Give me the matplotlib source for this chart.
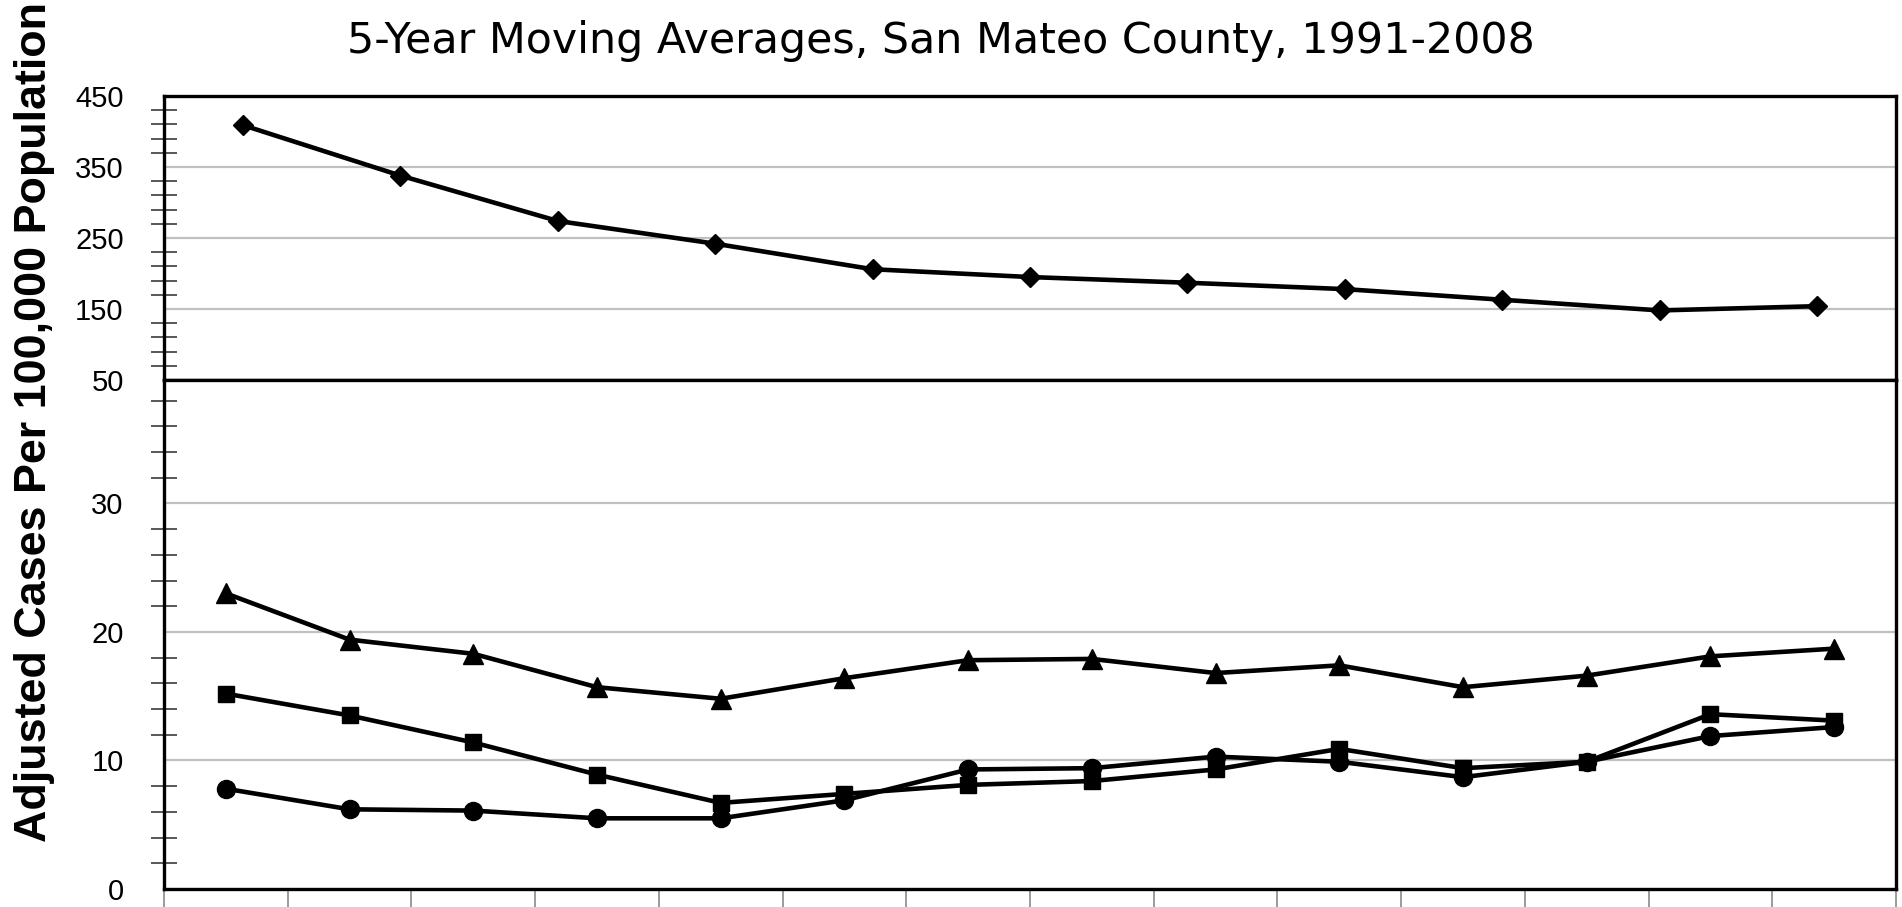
import matplotlib
matplotlib.use("Agg")
import matplotlib.pyplot as plt
from matplotlib.ticker import FixedLocator

# ==== data ====
# upper panel: 11 points (diamonds)
upper_rate = [409, 338, 274, 242, 206, 195, 187, 178, 163, 148, 154]

# lower panel: 14 five-year periods
periods = ["1991-1995", "1992-1996", "1993-1997", "1994-1998", "1995-1999",
           "1996-2000", "1997-2001", "1998-2002", "1999-2003", "2000-2004",
           "2001-2005", "2002-2006", "2003-2007", "2004-2008"]
triangle_rate = [23.0, 19.4, 18.3, 15.7, 14.8, 16.4, 17.8, 17.9, 16.8, 17.4, 15.7, 16.6, 18.1, 18.7]
square_rate = [15.2, 13.5, 11.4, 8.9, 6.7, 7.4, 8.1, 8.4, 9.3, 10.9, 9.4, 9.9, 13.6, 13.1]
circle_rate = [7.8, 6.2, 6.1, 5.5, 5.5, 6.9, 9.3, 9.4, 10.3, 9.9, 8.7, 9.9, 11.9, 12.6]

upper_ticks = [50, 150, 250, 350, 450]
lower_ticks = [0, 10, 20, 30]

subtitle = "5-Year Moving Averages, San Mateo County, 1991-2008"
ylabel = "Adjusted Cases Per 100,000 Population"

plt.rcParams["font.family"] = ["Liberation Sans", "DejaVu Sans"]

W, H = 1902, 907
fig = plt.figure(figsize=(W / 100, H / 100), dpi=100)

left, right = 164, 1896
top_y, mid_y, bot_y = 96, 380, 889
ax_top = fig.add_axes([left / W, 1 - mid_y / H, (right - left) / W, (mid_y - top_y) / H])
ax_bot = fig.add_axes([left / W, 1 - bot_y / H, (right - left) / W, (bot_y - mid_y) / H])


def style_axis(ax, ticks, minor):
    for s in ax.spines.values():
        s.set_linewidth(2.4)
        s.set_color("black")
    ax.set_yticks(ticks)
    ax.yaxis.set_minor_locator(FixedLocator(minor))
    ax.tick_params(axis="y", which="major", length=0, pad=29, labelsize=21)
    ax.tick_params(axis="y", which="minor", direction="inout", length=19,
                   width=1.1, color="#2a2a2a")
    ax.yaxis.grid(True, which="major", color="#c0c0c0", linewidth=1.6)
    ax.set_axisbelow(True)


line_kw = dict(color="black", lw=3.3)

# ---- upper panel ----
x_up = list(range(len(upper_rate)))
ax_top.plot(x_up, upper_rate, marker="D", ms=10, **line_kw)
ax_top.set_xlim(-0.5, len(upper_rate) - 0.5)
ax_top.set_ylim(50, 450)
style_axis(ax_top, upper_ticks, list(range(70, 450, 20)))
ax_top.set_xticks([])

# ---- lower panel ----
x_low = list(range(len(periods)))
ax_bot.plot(x_low, triangle_rate, marker="^", ms=15, **line_kw)
ax_bot.plot(x_low, square_rate, marker="s", ms=11, **line_kw)
ax_bot.plot(x_low, circle_rate, marker="o", ms=13, **line_kw)
ax_bot.set_xlim(-0.5, len(periods) - 0.5)
ax_bot.set_ylim(0, 39.6)
style_axis(ax_bot, lower_ticks, list(range(2, 40, 2)))
ax_bot.set_xticks([i - 0.5 for i in range(len(periods) + 1)])
ax_bot.tick_params(axis="x", direction="out", length=25, width=1.1,
                   color="#808080", labelbottom=False)

# ---- texts ----
fig.text(941 / W, 1 - 53 / H, subtitle, ha="center", va="baseline",
         fontsize=30.8, family="DejaVu Sans")
fig.text(35 / W, 1 - 422 / H, ylabel, rotation=90, ha="center", va="center",
         fontsize=32.3, fontweight="bold")

fig.savefig("out.png", dpi=100)
